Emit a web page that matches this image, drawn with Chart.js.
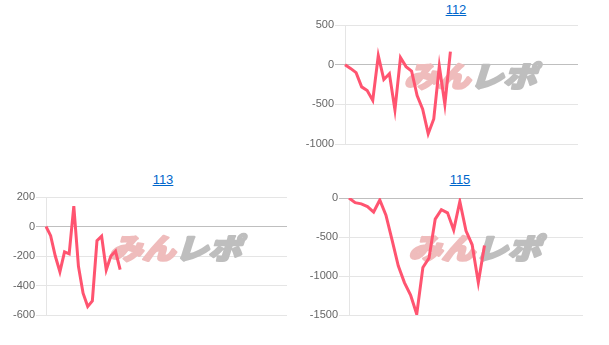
<!DOCTYPE html>
<html>
<head>
<meta charset="utf-8">
<script src="https://cdn.jsdelivr.net/npm/chart.js@4.4.0/dist/chart.umd.min.js"></script>
<style>
  body { margin: 0; background: #fff; width: 609px; height: 345px; position: relative; overflow: hidden; }
  .ttl { position: absolute; width: 100px; text-align: center; font: 13px/14px 'Liberation Sans', Arial, sans-serif; }
  .ttl a, .ttl a:visited { color: #0066cc; text-decoration: underline; }
  canvas { position: absolute; }
</style>
</head>
<body>
<div class="ttl" style="left:406px; top:3px;"><a>112</a></div>
<div class="ttl" style="left:113px; top:173px;"><a>113</a></div>
<div class="ttl" style="left:410px; top:173px;"><a>115</a></div>

<canvas id="c112" width="282" height="135" style="left:300px; top:17px;"></canvas>
<canvas id="c113" width="291" height="134" style="left:0px; top:189px;"></canvas>
<canvas id="c115" width="283" height="133" style="left:304px; top:190px;"></canvas>

<script>
// games (x categories) for each machine
const games112 = [1,2,3,4,5,6,7,8,9,10,11,12,13,14,15,16,17,18,19,20,21,22,23,24,25,26,27,28,29,30,
  31,32,33,34,35,36,37,38,39,40,41,42,43];
const games113 = [1,2,3,4,5,6,7,8,9,10,11,12,13,14,15,16,17,18,19,20,21,22,23,24,25,26,27,28,29,30,
  31,32,33,34,35,36,37,38,39,40,41,42,43,44,45,46,47,48,49,50,51,52,53];
const games115 = [1,2,3,4,5,6,7,8,9,10,11,12,13,14,15,16,17,18,19,20,21,22,23,24,25,26,27,28,29,30,
  31,32,33,34,35,36,37,38,39];

// values
const diff112 = [0, -47, -100, -280, -325, -450, 115, -187, -115, -570, 90, -25, -80, -390, -560, -870, -685, -17, -500, 165];
const diff113 = [0, -62, -200, -307, -172, -185, 138, -270, -452, -543, -505, -96, -66, -295, -200, -168, -293];
const diff115 = [0, -60, -75, -110, -180, -25, -220, -540, -870, -1085, -1245, -1490, -890, -770, -270, -150, -190, -410, -45, -420, -600, -1085, -610];

// y tick labels
const ticks112 = [500, 0, -500, -1000];
const ticks113 = [200, 0, -200, -400, -600];
const ticks115 = [0, -500, -1000, -1500];

const lineColor = 'rgb(255, 84, 112)';
const fontFamily = "'Liberation Sans', Arial, sans-serif";

// faint logo behind the line
const watermark = {
  id: 'watermark',
  beforeDatasetsDraw(chart) {
    const ctx = chart.ctx;
    const a = chart.chartArea;
    const cx = (a.left + a.right) / 2 + 12;
    const cy = (a.top + a.bottom) / 2 - 8;
    ctx.save();
    ctx.translate(cx, cy);
    ctx.transform(1.1, 0, -0.3, 0.95, 0, 0);
    ctx.font = "900 30px 'Noto Sans CJK JP'";
    ctx.textBaseline = 'middle';
    ctx.lineJoin = 'round';
    ctx.lineWidth = 2.5;
    const w1 = ctx.measureText('みん').width;
    const w2 = ctx.measureText('レポ').width;
    const x0 = -(w1 + w2) / 2;
    ctx.fillStyle = ctx.strokeStyle = '#efbcbc';
    ctx.strokeText('みん', x0, 0);
    ctx.fillText('みん', x0, 0);
    ctx.fillStyle = ctx.strokeStyle = '#bebebe';
    ctx.strokeText('レポ', x0 + w1, 0);
    ctx.fillText('レポ', x0 + w1, 0);
    ctx.restore();
  }
};

function makeChart(id, games, values, ticks, axisWidth) {
  const el = document.getElementById(id).getContext('2d');
  return new Chart(el, {
    type: 'line',
    data: {
      labels: games,
      datasets: [{
        data: values,
        borderColor: lineColor,
        borderWidth: 3,
        pointRadius: 0,
        tension: 0,
        fill: false
      }]
    },
    options: {
      responsive: false,
      animation: false,
      layout: { padding: { top: 8, bottom: 8, left: 0, right: 4 } },
      plugins: { legend: { display: false }, tooltip: { enabled: false } },
      scales: {
        x: { display: false },
        y: {
          min: Math.min(...ticks),
          max: Math.max(...ticks),
          ticks: {
            stepSize: ticks[0] - ticks[1],
            color: '#666',
            padding: 1,
            font: { size: 11, family: fontFamily },
            callback: v => String(v)
          },
          grid: {
            color: c => (c.tick && c.tick.value === 0) ? 'rgba(0,0,0,0.25)' : 'rgba(0,0,0,0.1)',
            tickLength: 10
          },
          border: { color: 'rgba(0,0,0,0.1)' },
          afterFit: s => { s.width = axisWidth; }
        }
      }
    },
    plugins: [watermark]
  });
}

makeChart('c112', games112, diff112, ticks112, 45);
makeChart('c113', games113, diff113, ticks113, 46);
makeChart('c115', games115, diff115, ticks115, 45);
</script>
</body>
</html>
